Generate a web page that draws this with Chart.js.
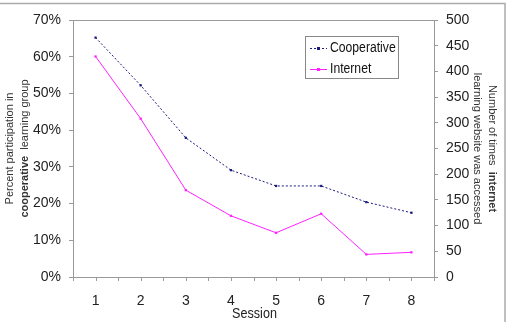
<!DOCTYPE html>
<html>
<head>
<meta charset="utf-8">
<script src="https://cdn.jsdelivr.net/npm/chart.js@4"></script>
<style>
html,body{margin:0;padding:0;background:#fff;}
canvas{display:block;}
</style>
</head>
<body>
<canvas id="c" width="508" height="322"></canvas>
<script>
const sessions = ['1','2','3','4','5','6','7','8'];
const cooperativePct = [65.2, 52.2, 37.9, 29.1, 24.8, 24.8, 20.4, 17.5];
const internetCount = [429, 308, 169, 119, 86, 123, 44, 48];
const leftTicksMax = 70;
const rightTicksMax = 500;

const FONT = '"Liberation Sans", Arial, sans-serif';
const AXIS_GRAY = '#9a9a9a';
const NAVY = '#1a1a80';
const MAGENTA = '#ff22ff';

function scaledText(ctx, text, x, y, sx) {
  ctx.save();
  ctx.translate(x, y);
  ctx.scale(sx, 1);
  ctx.fillText(text, 0, 0);
  ctx.restore();
}

const overlay = {
  id: 'overlay',
  afterDraw(chart) {
    const ctx = chart.ctx;
    const a = chart.chartArea;
    const x = chart.scales.x;
    ctx.save();
    // outer frame (top and right visible)
    ctx.strokeStyle = '#aaaaaa';
    ctx.lineWidth = 1.5;
    ctx.strokeRect(-10, 3.5, 515, 400);
    // plot area box
    ctx.strokeStyle = AXIS_GRAY;
    ctx.lineWidth = 1;
    ctx.strokeRect(Math.round(a.left) + 0.5, Math.round(a.top) + 0.5, Math.round(a.right - a.left), Math.round(a.bottom - a.top));
    // x tick marks at centers and boundaries
    const n = sessions.length;
    const step = (x.getPixelForValue(1) - x.getPixelForValue(0));
    ctx.beginPath();
    for (let i = 0; i < n; i++) {
      const c = x.getPixelForValue(i);
      [c - step / 2, c].forEach(px => {
        const rx = Math.round(px) + 0.5;
        ctx.moveTo(rx, Math.round(a.bottom));
        ctx.lineTo(rx, Math.round(a.bottom) + 4);
      });
    }
    const last = Math.round(x.getPixelForValue(n - 1) + step / 2) + 0.5;
    ctx.moveTo(last, Math.round(a.bottom));
    ctx.lineTo(last, Math.round(a.bottom) + 4);
    ctx.stroke();

    // x title
    ctx.fillStyle = '#222';
    ctx.font = '14px ' + FONT;
    ctx.textAlign = 'center';
    ctx.textBaseline = 'middle';
    scaledText(ctx, 'Session', (a.left + a.right) / 2 + 1, 314, 0.9);

    const cy = (a.top + a.bottom) / 2;
    // left title
    ctx.save();
    ctx.translate(10, cy);
    ctx.rotate(-Math.PI / 2);
    ctx.fillStyle = '#333';
    ctx.font = '11px ' + FONT;
    ctx.textAlign = 'center';
    ctx.textBaseline = 'middle';
    ctx.fillText('Percent participation in', 0, 0);
    ctx.restore();

    ctx.save();
    ctx.translate(25, cy);
    ctx.rotate(-Math.PI / 2);
    ctx.fillStyle = '#333';
    ctx.textBaseline = 'middle';
    ctx.textAlign = 'left';
    const b1 = 'cooperative', n1 = '  learning group';
    ctx.font = 'bold 11px ' + FONT;
    const w1 = ctx.measureText(b1).width;
    ctx.font = '11px ' + FONT;
    const w2 = ctx.measureText(n1).width;
    let sx = -(w1 + w2) / 2;
    ctx.font = 'bold 11px ' + FONT;
    ctx.fillText(b1, sx, 0);
    ctx.font = '11px ' + FONT;
    ctx.fillText(n1, sx + w1, 0);
    ctx.restore();

    // right title
    ctx.save();
    ctx.translate(492, cy);
    ctx.rotate(Math.PI / 2);
    ctx.fillStyle = '#333';
    ctx.textBaseline = 'middle';
    ctx.textAlign = 'left';
    const r1 = 'Number of times  ', r2 = 'internet';
    ctx.font = '11px ' + FONT;
    const rw1 = ctx.measureText(r1).width;
    ctx.font = 'bold 11px ' + FONT;
    const rw2 = ctx.measureText(r2).width;
    sx = -(rw1 + rw2) / 2;
    ctx.font = '11px ' + FONT;
    ctx.fillText(r1, sx, 0);
    ctx.font = 'bold 11px ' + FONT;
    ctx.fillText(r2, sx + rw1, 0);
    ctx.restore();

    ctx.save();
    ctx.translate(477, cy);
    ctx.rotate(Math.PI / 2);
    ctx.fillStyle = '#333';
    ctx.font = '11px ' + FONT;
    ctx.textAlign = 'center';
    ctx.textBaseline = 'middle';
    ctx.fillText('learning website was accessed', 0, 0);
    ctx.restore();

    // legend
    ctx.fillStyle = '#fff';
    ctx.fillRect(305, 36, 93, 42);
    ctx.strokeStyle = '#888';
    ctx.lineWidth = 1;
    ctx.strokeRect(305.5, 36.5, 93, 42);
    const items = [
      {label: chart.data.datasets[0].label, color: NAVY, dash: [2, 2], y: 48.5},
      {label: chart.data.datasets[1].label, color: MAGENTA, dash: [], y: 69.5}
    ];
    items.forEach(it => {
      ctx.strokeStyle = it.color;
      ctx.setLineDash(it.dash);
      ctx.beginPath();
      ctx.moveTo(310, it.y);
      ctx.lineTo(327, it.y);
      ctx.stroke();
      ctx.setLineDash([]);
      ctx.fillStyle = it.color;
      ctx.fillRect(317, it.y - 1.5, 3, 3);
      ctx.fillStyle = '#111';
      ctx.font = '14px ' + FONT;
      ctx.textAlign = 'left';
      ctx.textBaseline = 'middle';
      scaledText(ctx, it.label, 330, it.y, 0.87);
    });
    ctx.restore();
  }
};

new Chart(document.getElementById('c'), {
  type: 'line',
  data: {
    labels: sessions,
    datasets: [
      {
        label: 'Cooperative',
        data: cooperativePct,
        yAxisID: 'y',
        borderColor: NAVY,
        backgroundColor: NAVY,
        borderWidth: 1,
        borderDash: [2, 2],
        pointStyle: 'rect',
        pointRadius: 1.6,
        pointBorderWidth: 0,
        pointBackgroundColor: NAVY,
        tension: 0
      },
      {
        label: 'Internet',
        data: internetCount,
        yAxisID: 'y1',
        borderColor: MAGENTA,
        backgroundColor: MAGENTA,
        borderWidth: 1,
        pointStyle: 'rect',
        pointRadius: 1.6,
        pointBorderWidth: 0,
        pointBackgroundColor: MAGENTA,
        tension: 0
      }
    ]
  },
  options: {
    responsive: false,
    animation: false,
    devicePixelRatio: 1,
    layout: {padding: {top: 20, left: 0, right: 0, bottom: 0}},
    plugins: {legend: {display: false}, tooltip: {enabled: false}},
    scales: {
      x: {
        type: 'category',
        offset: true,
        grid: {display: false},
        border: {display: false},
        ticks: {font: {family: FONT, size: 14}, color: '#222', padding: 8, maxRotation: 0},
        afterFit: s => { s.height = 45; }
      },
      y: {
        position: 'left',
        min: 0,
        max: leftTicksMax,
        ticks: {stepSize: 10, callback: v => v + '%', font: {family: FONT, size: 14}, color: '#222', padding: 8},
        grid: {drawOnChartArea: false, drawTicks: true, tickLength: 4, color: AXIS_GRAY},
        border: {display: false},
        afterFit: s => { s.width = 73; }
      },
      y1: {
        position: 'right',
        min: 0,
        max: rightTicksMax,
        ticks: {stepSize: 50, font: {family: FONT, size: 14}, color: '#222', padding: 8},
        grid: {drawOnChartArea: false, drawTicks: true, tickLength: 4, color: AXIS_GRAY},
        border: {display: false},
        afterFit: s => { s.width = 74; }
      }
    }
  },
  plugins: [overlay]
});
</script>
</body>
</html>
